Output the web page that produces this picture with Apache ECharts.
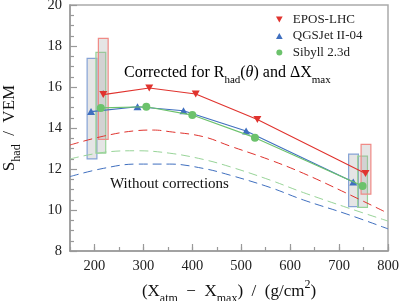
<!DOCTYPE html>
<html>
<head>
<meta charset="utf-8">
<script src="https://cdn.jsdelivr.net/npm/echarts@6/dist/echarts.min.js"></script>
<style>
html,body{margin:0;padding:0;background:#fff;}
#c{width:399px;height:301px;}
</style>
</head>
<body>
<div id="c"></div>
<script>
// ---- data ----
const seriesNames = ['EPOS-LHC', 'QGSJet II-04', 'Sibyll 2.3d'];
const eposX = [218, 312, 407, 533, 754];
const eposY = [15.63, 15.95, 15.66, 14.42, 11.78];
const qgsX = [193, 288, 382, 510, 729];
const qgsY = [14.8, 15.04, 14.84, 13.85, 11.37];
const sibX = [213, 306, 400, 528, 748];
const sibY = [14.98, 15.04, 14.63, 13.53, 11.17];

// systematic boxes: centre x, low, high
const eposBoxX = [218, 755];
const eposBoxLow = [13.45, 10.77];
const eposBoxHigh = [18.37, 13.2];
const qgsBoxX = [195, 729.5];
const qgsBoxLow = [12.49, 10.16];
const qgsBoxHigh = [17.4, 12.73];
const sibBoxX = [213, 748];
const sibBoxLow = [12.77, 10.13];
const sibBoxHigh = [17.69, 12.63];

// statistical error bar on first EPOS point
const eposErrX = [218];
const eposErrLow = [15.5];
const eposErrHigh = [15.85];

// uncorrected curves
const eposDashX = [150, 218, 286, 320, 354, 422, 477, 559, 627, 716, 800];
const eposDashY = [13.17, 13.6, 13.87, 13.9, 13.82, 13.58, 13.12, 12.44, 11.79, 10.81, 9.84];
const sibDashX = [150, 218, 286, 354, 422, 477, 559, 627, 716, 800];
const sibDashY = [12.49, 12.81, 12.89, 12.77, 12.47, 12.11, 11.46, 10.85, 10.12, 9.46];
const qgsDashX = [150, 218, 286, 354, 422, 477, 559, 627, 716, 800];
const qgsDashY = [11.63, 12.03, 12.24, 12.24, 12.03, 11.7, 11.1, 10.49, 9.8, 9.08];

const xTicks = [200, 300, 400, 500, 600, 700, 800];

// ---- styles ----
const FONT = '"Liberation Serif", "DejaVu Serif", serif';
const RED = '#e0332e', BLUE = '#3f6fbf', GREEN = '#6cc26c';
const RED_L = '#f08a86', BLUE_L = '#86a3d6', GREEN_L = '#98d498';
const BOX_HW = 10;
const downTri = 'path://M0,0 L10,0 L5,9 Z';
const upTri = 'path://M5,0 L10,9 L0,9 Z';

function zip(a, b) { return a.map((v, i) => [v, b[i]]); }
function zip3(a, b, c) { return a.map((v, i) => [v, b[i], c[i]]); }

function boxSeries(name, x, lo, hi, stroke) {
  return {
    name: name + ' box', type: 'custom', z: 1,
    encode: { x: 0, y: [1, 2] },
    data: zip3(x, lo, hi),
    renderItem: function (params, api) {
      const cx = api.value(0), l = api.value(1), h = api.value(2);
      const p1 = api.coord([cx - BOX_HW, h]);
      const p2 = api.coord([cx + BOX_HW, l]);
      return {
        type: 'rect',
        shape: { x: p1[0], y: p1[1], width: p2[0] - p1[0], height: p2[1] - p1[1] },
        style: { fill: 'rgba(160,160,160,0.28)', stroke: stroke, lineWidth: 1.2 }
      };
    }
  };
}

function dashSeries(x, y, color) {
  return {
    type: 'line', data: zip(x, y), smooth: 0.4, symbol: 'none', z: 2,
    lineStyle: { color: color, width: 1, type: [9, 5] }, silent: true
  };
}

function makeRich(size) {
  const sub = Math.round(size * 0.7);
  const lh = Math.round(size * 1.55);
  const slh = Math.round(sub * 1.2);
  return {
    m: { fontFamily: FONT, fontSize: size, color: '#111', lineHeight: lh },
    sub: { fontFamily: FONT, fontSize: sub, color: '#111', lineHeight: slh, verticalAlign: 'bottom' },
    sup: { fontFamily: FONT, fontSize: sub, color: '#111', lineHeight: slh, verticalAlign: 'top' },
    it: { fontFamily: FONT, fontSize: size, fontStyle: 'italic', color: '#111', lineHeight: lh }
  };
}

const chart = echarts.init(document.getElementById('c'), null, { renderer: 'canvas' });
chart.setOption({
  backgroundColor: '#fff',
  animation: false,
  grid: { left: 70, right: 11, top: 5, bottom: 50, show: true, borderColor: '#aaa', borderWidth: 1.5,
          outerBoundsMode: 'none', containLabel: false },
  legend: {
    orient: 'vertical', left: 271, top: 8, itemWidth: 7, itemHeight: 6, itemGap: 3.5,
    textStyle: { fontFamily: FONT, fontSize: 13, color: '#222', lineHeight: 12.5, padding: [0, 0, 0, 5] },
    data: [
      { name: seriesNames[0], icon: downTri },
      { name: seriesNames[1], icon: upTri },
      { name: seriesNames[2], icon: 'circle' }
    ]
  },
  xAxis: [{
    type: 'value', min: 150, max: 800, position: 'bottom',
    axisLine: { lineStyle: { color: '#999', width: 1.5 } },
    axisTick: { inside: true, length: 7, customValues: xTicks, lineStyle: { color: '#999', width: 1.2 } },
    axisLabel: { customValues: xTicks, fontFamily: FONT, fontSize: 14.5, color: '#222', margin: 8 },
    splitLine: { show: false },
    name: '{m|(X}{sub|atm}{m|  −  X}{sub|max}{m|)  /  (g/cm}{sup|2}{m|)}',
    nameLocation: 'middle', nameGap: 28, nameMoveOverlap: false,
    nameTextStyle: { rich: makeRich(17) }
  }, {
    type: 'value', min: 150, max: 800, interval: 50, position: 'bottom',
    axisLine: { show: false },
    axisTick: { inside: true, length: 4, lineStyle: { color: '#999', width: 1.2 } },
    axisLabel: { show: false },
    splitLine: { show: false }
  }],
  yAxis: {
    type: 'value', min: 8, max: 20, interval: 2,
    axisLine: { show: true, lineStyle: { color: '#999', width: 1.5 } },
    axisTick: { show: true, inside: true, length: 7, lineStyle: { color: '#999', width: 1.2 } },
    minorTick: { show: true, splitNumber: 4, length: 4, lineStyle: { color: '#999', width: 1.2 } },
    axisLabel: { fontFamily: FONT, fontSize: 14.5, color: '#222', margin: 8 },
    splitLine: { show: false },
    name: '{m|S}{sub|had}{m|  /  VEM}',
    nameLocation: 'middle', nameGap: 47, nameRotate: 90, nameMoveOverlap: false,
    nameTextStyle: { rich: makeRich(17) }
  },
  series: [
    dashSeries(eposDashX, eposDashY, RED),
    dashSeries(sibDashX, sibDashY, GREEN_L),
    dashSeries(qgsDashX, qgsDashY, BLUE),
    boxSeries(seriesNames[1], qgsBoxX, qgsBoxLow, qgsBoxHigh, BLUE_L),
    boxSeries(seriesNames[2], sibBoxX, sibBoxLow, sibBoxHigh, GREEN_L),
    boxSeries(seriesNames[0], eposBoxX, eposBoxLow, eposBoxHigh, RED_L),
    {
      name: 'epos err', type: 'custom', z: 3,
      encode: { x: 0, y: [1, 2] },
      data: zip3(eposErrX, eposErrLow, eposErrHigh),
      renderItem: function (params, api) {
        const a = api.coord([api.value(0), api.value(2)]);
        const b = api.coord([api.value(0), api.value(1)]);
        return { type: 'line', shape: { x1: a[0], y1: a[1], x2: b[0], y2: b[1] }, style: { stroke: '#999', lineWidth: 1 } };
      }
    },
    {
      name: seriesNames[1], type: 'line', data: zip(qgsX, qgsY), z: 4,
      symbol: upTri, symbolSize: [8, 7], itemStyle: { color: BLUE },
      lineStyle: { color: BLUE, width: 1.1 }
    },
    {
      name: seriesNames[2], type: 'line', data: zip(sibX, sibY), z: 5,
      symbol: 'circle', symbolSize: 8, itemStyle: { color: GREEN },
      lineStyle: { color: GREEN, width: 1.1 }
    },
    {
      name: seriesNames[0], type: 'line', data: zip(eposX, eposY), z: 6,
      symbol: downTri, symbolSize: [8, 7], itemStyle: { color: RED },
      lineStyle: { color: RED, width: 1.1 }
    }
  ],
  graphic: [
    {
      type: 'text', left: 124, top: 65, z: 10,
      style: {
        text: '{m|Corrected for R}{sub|had}{m|(}{it|θ}{m|) and ΔX}{sub|max}',
        rich: makeRich(16)
      }
    },
    {
      type: 'text', left: 110, top: 177, z: 10,
      style: { text: 'Without corrections', fontFamily: FONT, fontSize: 15, fill: '#111' }
    }
  ]
});
</script>
</body>
</html>
